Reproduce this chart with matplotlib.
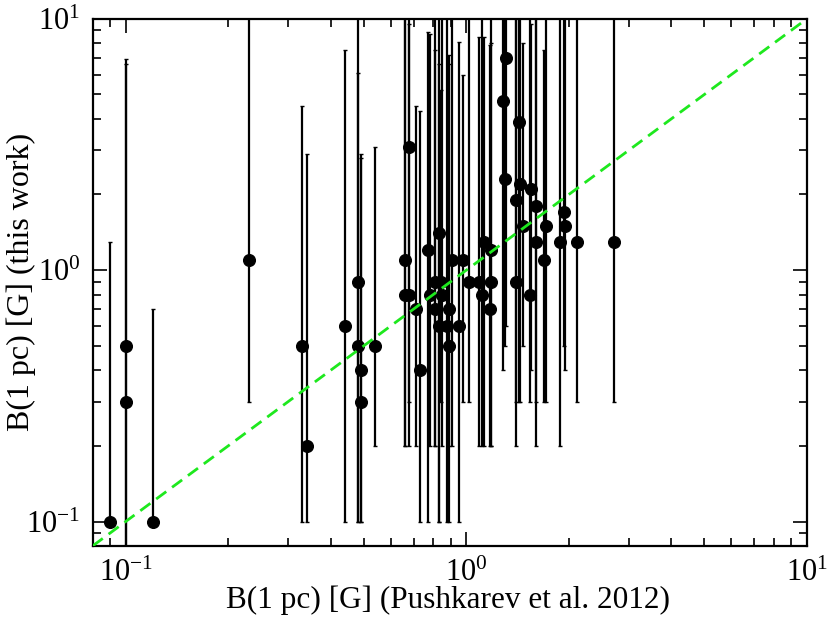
import matplotlib
matplotlib.use("Agg")
import matplotlib.pyplot as plt
import numpy as np
from matplotlib.ticker import LogLocator, FixedLocator, NullFormatter

plt.rcParams['font.family'] = ['Liberation Serif', 'DejaVu Serif']
plt.rcParams['mathtext.fontset'] = 'custom'
plt.rcParams['mathtext.rm'] = 'Liberation Serif'
plt.rcParams['mathtext.it'] = 'Liberation Serif'
plt.rcParams['mathtext.default'] = 'regular'

# B(1 pc) Pushkarev et al. 2012
b_push = [0.09, 0.10, 0.10, 0.12, 0.23, 0.33, 0.34, 0.44, 0.48, 0.48, 0.49, 0.49, 0.54,
          0.66, 0.66, 0.68, 0.68, 0.71, 0.73, 0.77, 0.78, 0.81, 0.81, 0.83, 0.83, 0.84,
          0.85, 0.88, 0.89, 0.89, 0.91, 0.95, 0.98, 1.02, 1.09, 1.11, 1.13, 1.18, 1.18,
          1.17, 1.28, 1.30, 1.31, 1.40, 1.43, 1.44, 1.40, 1.47, 1.54, 1.55, 1.60, 1.60,
          1.69, 1.71, 1.89, 1.93, 1.95, 2.12, 2.71]
# B(1 pc) this work
b_this = [0.10, 0.50, 0.30, 0.10, 1.10, 0.50, 0.20, 0.60, 0.90, 0.50, 0.40, 0.30, 0.50,
          1.10, 0.80, 0.80, 3.10, 0.70, 0.40, 1.20, 0.80, 0.90, 0.70, 1.40, 0.60, 0.90,
          0.80, 0.60, 0.70, 0.50, 1.10, 0.60, 1.10, 0.90, 0.90, 0.80, 1.30, 1.20, 0.90,
          0.70, 4.70, 2.30, 7.00, 0.90, 3.90, 2.20, 1.90, 1.50, 0.80, 2.10, 1.80, 1.30,
          1.10, 1.50, 1.30, 1.70, 1.50, 1.30, 1.30]
# lower and upper limits of the error bars (this work)
b_low = [0.10, 0.05, 0.05, 0.10, 0.30, 0.10, 0.10, 0.10, 0.10, 0.10, 0.10, 0.10, 0.20,
         0.20, 0.20, 0.20, 0.30, 0.20, 0.10, 0.10, 0.20, 0.20, 0.20, 0.10, 0.10, 0.30,
         0.20, 0.10, 0.20, 0.10, 0.20, 0.10, 0.30, 0.30, 0.20, 0.20, 0.20, 0.20, 0.20,
         0.20, 0.40, 0.50, 0.60, 0.20, 0.30, 0.30, 0.30, 0.50, 0.30, 0.40, 0.20, 0.30,
         0.30, 0.30, 0.20, 0.50, 0.40, 0.30, 0.30]
b_high = [1.30, 6.90, 6.60, 0.70, 20.0, 4.50, 2.90, 7.50, 20.0, 6.10, 2.80, 2.90, 3.10,
          20.0, 20.0, 9.50, 20.0, 4.50, 4.30, 8.90, 8.70, 20.0, 7.50, 20.0, 6.60, 5.20,
          20.0, 20.0, 6.60, 7.20, 20.0, 8.10, 6.00, 20.0, 8.50, 20.0, 8.50, 20.0, 8.00,
          7.90, 20.0, 20.0, 20.0, 20.0, 20.0, 20.0, 20.0, 8.00, 20.0, 9.50, 20.0, 20.0,
          7.50, 20.0, 20.0, 20.0, 20.0, 20.0, 20.0]

x_tick_vals = [0.1, 1, 10]
x_tick_labels = ['10$^{-1}$', '10$^{0}$', '10$^{1}$']
y_tick_vals = [0.1, 1, 10]
y_tick_labels = ['10$^{-1}$', '10$^{0}$', '10$^{1}$']

x = np.array(b_push)
y = np.array(b_this)
lo = np.array(b_low)
hi = np.array(b_high)

fig = plt.figure(figsize=(8.30, 6.26), dpi=100)
ax = fig.add_axes([0.1117, 0.128, 0.8605, 0.842])

ax.errorbar(x, y, yerr=[y - lo, hi - y], fmt='o', color='black', ms=8.4,
            elinewidth=1.6, capsize=1.5, capthick=1.0, zorder=3)

ax.plot([0.08, 10], [0.08, 10], linestyle=(0, (4.5, 2.6)), color='#1ee81e', lw=2.0, zorder=4)

ax.set_xscale('log')
ax.set_yscale('log')
ax.set_xlim(0.08, 10)
ax.set_ylim(0.08, 10)

ax.xaxis.set_major_locator(FixedLocator(x_tick_vals))
ax.set_xticklabels(x_tick_labels)
ax.yaxis.set_major_locator(FixedLocator(y_tick_vals))
ax.set_yticklabels(y_tick_labels)
ax.xaxis.set_minor_locator(LogLocator(base=10, subs=np.arange(2, 10)))
ax.yaxis.set_minor_locator(LogLocator(base=10, subs=np.arange(2, 10)))
ax.xaxis.set_minor_formatter(NullFormatter())
ax.yaxis.set_minor_formatter(NullFormatter())

ax.tick_params(which='both', direction='in', top=True, right=True, width=1.2,
               labelsize=22, color='black')
ax.tick_params(which='major', length=10, pad=9)
ax.tick_params(which='minor', length=6)
for s in ax.spines.values():
    s.set_linewidth(1.6)

ax.set_xlabel('B(1 pc) [G] (Pushkarev et al. 2012)', fontsize=22.5)
ax.set_ylabel('B(1 pc) [G] (this work)', fontsize=23)
ax.xaxis.set_label_coords(0.497, -0.103)
ax.xaxis.label.set_va('center')
ax.yaxis.set_label_coords(-0.100, 0.50)
ax.yaxis.label.set_va('center')

fig.savefig('out.png', dpi=100)
